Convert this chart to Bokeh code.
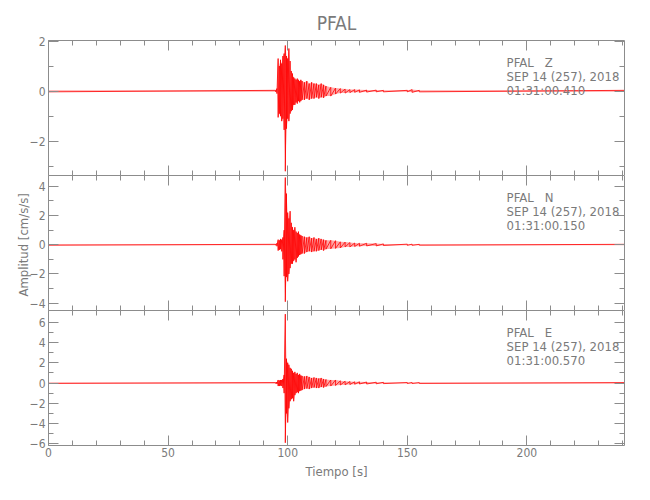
import numpy as np
from bokeh.plotting import figure
from bokeh.layouts import column
from bokeh.models import (Range1d, LinearAxis, FixedTicker, Label,
                          CustomJSTickFormatter, CustomLabelingPolicy)
from bokeh.embed import file_html
from bokeh.resources import INLINE

# ---------------- data ----------------
station = "PFAL"
components = ["Z", "N", "E"]
date_text = "SEP 14 (257), 2018"
start_times = ["01:31:00.410", "01:31:00.150", "01:31:00.570"]
x_title = "Tiempo [s]"
y_title = "Amplitud  [cm/s/s]"

time_max = 240.8
x_major = [0, 50, 100, 150, 200]
x_minor = [0, 10, 20, 30, 40, 50, 60, 70, 80, 90, 100, 110, 120, 130, 140,
           150, 160, 170, 180, 190, 200, 210, 220, 230, 240]

y_limits = [(-3.37, 2.02), (-4.5, 4.74), (-6.17, 7.16)]
y_major = [[-2, 0, 2], [-4, -2, 0, 2, 4], [-6, -4, -2, 0, 2, 4, 6]]
y_minor = [[-3, -1, 1], [-3, -1, 1, 3], [-5, -3, -1, 1, 3, 5]]

# envelope of each trace (upper / lower amplitude read at these times, s)
t_env = [0, 95.0, 95.5, 96.0, 96.5, 97.0, 97.5, 98.0, 98.5, 99.0, 99.5, 100.0,
         100.5, 101.0, 101.5, 102.0, 102.5, 103.0, 103.5, 104.0, 104.5, 105.0,
         105.5, 106, 107, 108, 109, 110, 111, 112, 113, 114, 115, 116, 118, 120,
         122, 124, 126, 128, 130, 133, 137, 140, 150, 152, 155, 240.8]

z_hi = [0.03, 0.03, 0.1, 1.3, 1.0, 1.25, 1.1, 1.4, 1.5, 1.82, 1.4, 1.3, 1.7, 1.2,
        0.8, 0.7, 0.55, 0.5, 0.45, 0.5, 0.45, 0.4, 0.45, 0.4, 0.35, 0.4, 0.3, 0.35,
        0.3, 0.3, 0.25, 0.3, 0.25, 0.2, 0.15, 0.12, 0.1, 0.08, 0.06, 0.06, 0.05,
        0.04, 0.04, 0.03, 0.03, 0.06, 0.03, 0.03]
z_lo = [-0.03, -0.03, -0.1, -1.05, -0.9, -1.0, -1.2, -1.1, -1.55, -3.2, -1.5, -1.1,
        -1.2, -0.9, -0.8, -0.75, -0.55, -0.55, -0.45, -0.5, -0.4, -0.45, -0.4, -0.35,
        -0.35, -0.3, -0.35, -0.3, -0.3, -0.25, -0.3, -0.25, -0.27, -0.2, -0.2, -0.12,
        -0.08, -0.08, -0.06, -0.05, -0.05, -0.04, -0.03, -0.03, -0.03, -0.05, -0.03,
        -0.03]

n_hi = [0.03, 0.03, 0.1, 0.35, 0.3, 0.4, 0.35, 0.5, 1.0, 4.6, 3.5, 2.2, 1.8, 2.3,
        1.5, 1.2, 1.0, 1.2, 0.9, 0.8, 0.9, 0.7, 0.65, 0.6, 0.55, 0.5, 0.55, 0.45,
        0.5, 0.4, 0.45, 0.4, 0.35, 0.3, 0.3, 0.28, 0.2, 0.18, 0.15, 0.12, 0.1, 0.1,
        0.08, 0.06, 0.04, 0.04, 0.03, 0.03]
n_lo = [-0.03, -0.03, -0.1, -0.4, -0.35, -0.3, -0.45, -1.0, -2.15, -3.9, -2.2, -2.5,
        -2.0, -1.6, -1.3, -1.3, -1.1, -1.0, -1.2, -0.9, -0.8, -0.7, -0.65, -0.6, -0.6,
        -0.5, -0.45, -0.5, -0.45, -0.45, -0.4, -0.35, -0.4, -0.3, -0.28, -0.25, -0.22,
        -0.15, -0.15, -0.12, -0.1, -0.08, -0.08, -0.05, -0.04, -0.04, -0.03, -0.03]

e_hi = [0.04, 0.04, 0.1, 0.3, 0.25, 0.3, 0.3, 0.4, 0.8, 6.8, 2.4, 2.0, 1.8, 1.5,
        1.4, 1.2, 1.0, 1.1, 0.9, 1.0, 0.8, 0.9, 0.75, 0.7, 0.65, 0.7, 0.6, 0.5, 0.55,
        0.5, 0.45, 0.5, 0.4, 0.35, 0.3, 0.3, 0.22, 0.18, 0.15, 0.12, 0.12, 0.1, 0.08,
        0.07, 0.05, 0.05, 0.04, 0.04]
e_lo = [-0.04, -0.04, -0.1, -0.3, -0.3, -0.25, -0.3, -0.5, -1.0, -5.9, -3.0, -3.9,
        -2.5, -1.8, -1.6, -1.5, -1.8, -1.2, -1.0, -0.9, -1.0, -0.8, -0.75, -0.7, -0.6,
        -0.55, -0.6, -0.5, -0.45, -0.5, -0.5, -0.4, -0.45, -0.35, -0.3, -0.25, -0.2,
        -0.18, -0.15, -0.12, -0.1, -0.1, -0.08, -0.06, -0.05, -0.05, -0.04, -0.04]

traces = [(z_hi, z_lo), (n_hi, n_lo), (e_hi, e_lo)]

# ---------------- style ----------------
FONT = "DejaVu Sans Condensed"
AXIS_COLOR = "#8c8c8c"
TEXT_COLOR = "#7a7a7a"
TRACE_COLOR = "#ff0000"
FRAME_W, FRAME_H = 576, 135

minus_fmt = "return tick < 0 ? '\\u2212' + Math.abs(tick) : String(tick);"
no_labels = CustomLabelingPolicy(code="""
const all = Array.from(indices);
for (const i of all) indices.unset(i);
return indices;
""")


def style_axis(ax, show_labels):
    ax.axis_line_color = AXIS_COLOR
    ax.major_tick_line_color = AXIS_COLOR
    ax.minor_tick_line_color = AXIS_COLOR
    ax.major_tick_in = 10
    ax.major_tick_out = 0
    ax.minor_tick_in = 5
    ax.minor_tick_out = 0
    ax.major_label_text_color = TEXT_COLOR
    ax.major_label_text_font = FONT
    ax.axis_label_text_font = FONT
    ax.axis_label_text_color = TEXT_COLOR
    ax.axis_label_text_font_style = "normal"
    ax.axis_label_text_font_size = "13px"
    if show_labels:
        ax.major_label_text_font_size = "12px"
        ax.major_label_standoff = 3
        ax.formatter = CustomJSTickFormatter(code=minus_fmt)
    else:
        ax.major_label_text_font_size = "0px"
        ax.major_label_standoff = 0
        ax.major_label_policy = no_labels


figs = []
for i in range(3):
    first = i == 0
    last = i == 2
    p = figure(frame_width=FRAME_W, frame_height=FRAME_H,
               x_range=Range1d(0, time_max),
               y_range=Range1d(*y_limits[i]),
               x_axis_type=None, y_axis_type=None,
               output_backend="svg", toolbar_location=None,
               min_border_left=48, min_border_right=10,
               min_border_top=40 if first else 0,
               min_border_bottom=50 if last else 0,
               background_fill_color="white", border_fill_color="white")
    p.outline_line_color = None

    xt = FixedTicker(ticks=x_major, minor_ticks=x_minor)
    yt = FixedTicker(ticks=y_major[i], minor_ticks=y_minor[i])

    left = LinearAxis(ticker=yt)
    style_axis(left, True)
    right = LinearAxis(ticker=yt)
    style_axis(right, False)
    top = LinearAxis(ticker=xt)
    style_axis(top, False)
    bottom = LinearAxis(ticker=xt)
    style_axis(bottom, last)
    if last:
        bottom.axis_label = x_title
        bottom.axis_label_standoff = 4
        bottom.major_label_standoff = 2
    if i == 1:
        left.axis_label = y_title
        left.axis_label_standoff = -4
    p.add_layout(left, "left")
    p.add_layout(right, "right")
    p.add_layout(top, "above")
    p.add_layout(bottom, "below")

    if first:
        p.title.text = station
        p.title.align = "center"
        p.title.text_font = FONT
        p.title.text_font_size = "19px"
        p.title.text_font_style = "normal"
        p.title.text_color = TEXT_COLOR
        p.title.standoff = 14

    hi, lo = traces[i]
    t = np.asarray(t_env, dtype=float)
    hi_a = np.asarray(hi, dtype=float)
    lo_a = np.asarray(lo, dtype=float)
    p.varea(x=t, y1=lo_a, y2=hi_a, fill_color=TRACE_COLOR, fill_alpha=0.35)
    xs = np.repeat(t, 2)
    ys = np.column_stack([hi_a, lo_a]).ravel()
    p.line(xs, ys, line_color=TRACE_COLOR, line_width=0.8)

    y0, y1 = y_limits[i]
    per_px = (y1 - y0) / FRAME_H
    lines = [station + "\u00a0\u00a0\u00a0" + components[i], date_text, start_times[i]]
    for k, (txt, off) in enumerate(zip(lines, [22, 36, 50])):
        p.add_layout(Label(x=191.5, y=y1 - off * per_px, text=txt,
                           text_font=FONT, text_font_size="13px",
                           text_color=TEXT_COLOR, text_baseline="middle",
                           text_align="left"))
    figs.append(p)

layout = column(*figs, spacing=0)
open("out.html", "w").write(file_html(layout, INLINE))
